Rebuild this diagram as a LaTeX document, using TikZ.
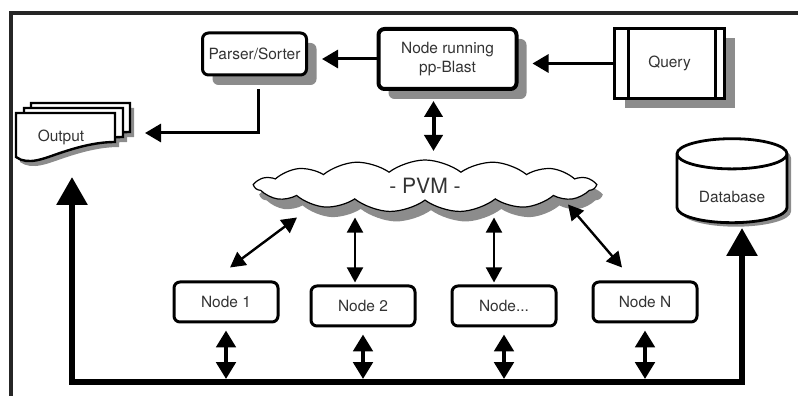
\documentclass[tikz,border=0pt]{standalone}
\usepackage{fontspec}
\setmainfont{TeX Gyre Heros}
\usetikzlibrary{shapes.geometric,shapes.symbols,shadows,arrows.meta,calc}

\begin{document}
\begin{tikzpicture}
[x=0.25mm,y=-0.25mm,
  shadowDecorate/.style={drop shadow={shadow xshift=2.5mm,shadow yshift=-2.5mm,fill=black!45,opacity=1}},
  boxDecorate/.style={shape=rectangle,rounded corners=1.5mm,draw,line width=0.75mm,fill=white,
    align=center,text=black!80,font=\fontsize{11}{13}\selectfont,shadowDecorate},
  workerDecorate/.style={shape=rectangle,rounded corners=1.5mm,draw,line width=0.75mm,fill=white,
    text=black!80,font=\fontsize{11}{13}\selectfont,minimum width=26mm,minimum height=10mm},
  queryDecorate/.style={shape=rectangle,draw,line width=0.75mm,fill=white,text=black!80,
    font=\fontsize{11}{13}\selectfont,minimum width=27.5mm,minimum height=17.5mm,shadowDecorate},
  cloudDecorate/.style={shape=cloud,cloud puffs=15,cloud puff arc=75,cloud ignores aspect,
    minimum width=85mm,minimum height=13mm,draw,line width=0.3mm,fill=white,
    text=black!80,font=\fontsize{15}{18}\selectfont,
    drop shadow={shadow xshift=1.5mm,shadow yshift=-2.5mm,fill=black!45,opacity=1}},
  dbDecorate/.style={shape=cylinder,shape border rotate=90,aspect=0.4,draw,line width=0.7mm,
    fill=white,minimum width=27.5mm,minimum height=21mm,text height=5.5mm,text depth=0mm,
    text=black!80,font=\fontsize{11}{13}\selectfont,
    drop shadow={shadow xshift=1mm,shadow yshift=-1mm,fill=black!45,opacity=1}},
  docDecorate/.style={draw,line width=0.6mm,fill=white},
  flowDecorate/.style={line width=0.75mm,-{Triangle[length=4mm,width=4.5mm]}},
  pvmDecorate/.style={line width=1mm,{Triangle[length=4mm,width=4.5mm]}-{Triangle[length=4mm,width=4.5mm]}},
  linkDecorate/.style={line width=0.6mm,{Triangle[length=3.8mm,width=4mm]}-{Triangle[length=3.8mm,width=4mm]}},
  busLinkDecorate/.style={line width=1mm,{Triangle[length=4.2mm,width=4.8mm]}-{Triangle[length=4.2mm,width=4.8mm]}},
  busDecorate/.style={line width=1.5mm,line join=miter,
    {Triangle[length=7mm,width=7.5mm]}-{Triangle[length=7mm,width=7.5mm]}},
  frameDecorate/.style={line width=0.85mm,draw=black!85}]
\useasboundingbox (0,0) rectangle (798,396);
%% frame
\draw[frameDecorate] (11,400) -- (11,13) -- (800,13);
%% top row
\node (parser) at (254.5,54) [boxDecorate,minimum width=26mm,minimum height=10.5mm] {Parser/Sorter};
\node (blast) at (447.5,59) [boxDecorate,line width=1mm,minimum width=34.5mm,minimum height=15mm]
  {Node running\\pp-Blast};
\node (query) at (669.5,63.5) [queryDecorate] {Query};
\draw[line width=0.75mm] ($(query.north west)+(15,0)$) -- ($(query.south west)+(15,0)$);
\draw[line width=0.75mm] ($(query.north east)+(-11,0)$) -- ($(query.south east)+(-11,0)$);
%% output stack
\foreach \dx/\dy in {15/-10, 8/-5, 0/0}
{
  \fill[black!45,shift={(\dx+4,\dy+5)}] (16,113) -- (115,113) -- (115,142)
    .. controls (95,142) and (75,148) .. (60,153) .. controls (45,158) and (28,166) .. (16,157) -- cycle;
}
\foreach \dx/\dy in {15/-10, 8/-5, 0/0}
{
  \draw[docDecorate,shift={(\dx,\dy)}] (16,113) -- (115,113) -- (115,142)
    .. controls (95,142) and (75,148) .. (60,153) .. controls (45,158) and (28,166) .. (16,157) -- cycle;
}
\node (output) at (61,137) [text=black!80,font=\fontsize{11}{13}\selectfont] {Output};
%% cloud and database
\node (pvm) at (425,186) [cloudDecorate] {- PVM -};
\node (db) at (732,192) [dbDecorate] {Database};
%% worker nodes
\foreach \nodename/\x/\y/\caption in {
  node1/226/302/Node 1, node2/363/306/Node 2, node3/504/306/{Node...}, nodeN/645/302/Node N}
{
  \node (\nodename) at (\x,\y) [workerDecorate] {\caption};
}
%% flow arrows
\draw[flowDecorate,shorten >=3.5mm] (query.west) -- (query.west -| blast.east);
\draw[flowDecorate,shorten >=3.5mm] (blast.west) -- (blast.west -| parser.east);
\coordinate (outIn) at (145,133);
\draw[flowDecorate] ($(parser.south)+(4,13)$) |- (outIn);
\draw[pvmDecorate] ($(blast.south)+(-14,10)$) -- ($(blast.south)+(-14,60)$);
%% links to the virtual machine
\foreach \nodename/\sx/\sy/\ex/\ey in {
  node1/4/-13/71/-63, node2/-8/-2/-8/-67, node3/-10/-2/-10/-67, nodeN/-23/-13/-77/-76}
{
  \draw[linkDecorate] ($(\nodename.north)+(\sx,\sy)$) -- ($(\nodename.north)+(\ex,\ey)$);
}
%% bus
\coordinate (outTip) at (72,177);
\coordinate (dbTip) at (742,228);
\coordinate (busL) at (72,382);
\draw[busDecorate] (outTip) |- (dbTip |- busL) -- (dbTip);
\foreach \nodename in {node1, node2, node3, nodeN}
{
  \draw[busLinkDecorate] ($(\nodename.south)+(0,7)$) -- ($(\nodename.south |- busL)+(0,-3)$);
}
\end{tikzpicture}
\end{document}
